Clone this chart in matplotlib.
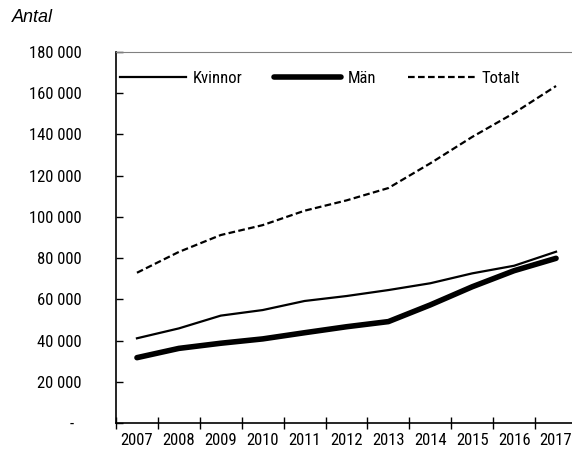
import matplotlib
matplotlib.use("Agg")
from matplotlib import pyplot as plt
from matplotlib.ticker import FixedLocator, FuncFormatter

# Antal per år
years = [2007, 2008, 2009, 2010, 2011, 2012, 2013, 2014, 2015, 2016, 2017]
kvinnor = [41100, 45900, 52100, 54800, 59200, 61600, 64500, 67800, 72600, 76300, 83100]
man = [31700, 36200, 38700, 40800, 43800, 46700, 49200, 57300, 66100, 73900, 79900]
totalt = [72900, 83000, 91200, 96000, 103000, 108000, 114000, 126000, 138800, 150400, 163500]

y_ticks = [0, 20000, 40000, 60000, 80000, 100000, 120000, 140000, 160000, 180000]

narrow = ["Roboto Condensed", "DejaVu Sans"]


def fmt_antal(v, pos):
    # noll visas som streck, tusental med mellanslag
    if v == 0:
        return "-  "
    return "{:,}".format(int(v)).replace(",", " ")


fig = plt.figure(figsize=(5.72, 4.58), dpi=100)
ax = fig.add_axes([116 / 572, 1 - 423 / 458, 461 / 572, 371 / 458])

x = list(range(len(years)))
ax.plot(x, kvinnor, color="black", lw=1.6, label="Kvinnor")
ax.plot(x, man, color="black", lw=4.0, solid_capstyle="round", label="Män")
ax.plot(x, totalt, color="black", lw=1.6, dashes=(3.0, 1.5), label="Totalt")

ax.set_xlim(-0.5, len(years) - 0.5)
ax.set_ylim(0, 180000)

# kategorietiketter mellan tickstrecken
ax.xaxis.set_major_locator(FixedLocator([i - 0.5 for i in range(len(years) + 1)]))
ax.xaxis.set_minor_locator(FixedLocator(x))
ax.set_xticklabels([])
ax.set_xticklabels([str(y) for y in years], minor=True, family=narrow, fontsize=12)
ax.tick_params(axis="x", which="major", direction="inout", length=8, width=1)
ax.tick_params(axis="x", which="minor", length=0, pad=7)

ax.yaxis.set_major_locator(FixedLocator(y_ticks))
ax.yaxis.set_major_formatter(FuncFormatter(fmt_antal))
ax.tick_params(axis="y", direction="in", length=5, width=1, pad=24.5)
for lab in ax.get_yticklabels():
    lab.set_family(narrow)
    lab.set_fontsize(12)

ax.spines["right"].set_visible(False)
ax.spines["top"].set_color("#808080")
ax.spines["left"].set_linewidth(1.2)
ax.spines["bottom"].set_linewidth(1.2)

leg = ax.legend(loc="upper left", bbox_to_anchor=(-0.0065, 0.967), ncol=3, frameon=False,
                handlelength=4.0, handletextpad=0.4, columnspacing=1.9, borderaxespad=0,
                prop={"family": narrow, "size": 12})

fig.text(12 / 572, 1 - 18 / 458, "Antal", fontsize=13, style="italic",
         family=["Liberation Sans", "DejaVu Sans"], va="center", ha="left")

fig.savefig("out.png", dpi=100)
